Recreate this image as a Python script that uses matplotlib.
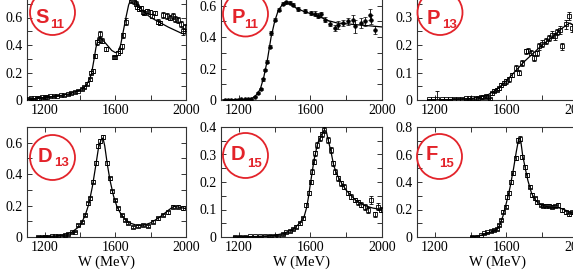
import matplotlib
matplotlib.use("Agg")
import matplotlib.pyplot as plt
from matplotlib.patches import Ellipse
from matplotlib.ticker import MultipleLocator, FuncFormatter

# --- Configuration ---
W_PX, H_PX = 573, 276
RED = '#e3232a'
FRAME = '#333333'

# --- Data ---
# S11
S11_W = [1110, 1125, 1140, 1155, 1170, 1185, 1200, 1215, 1230, 1250,
         1270, 1290, 1310, 1330, 1350, 1370, 1390, 1410, 1425, 1440,
         1455, 1465, 1475, 1485, 1495, 1505, 1515, 1525, 1545,
         1590, 1600, 1615, 1625, 1635, 1645, 1660, 1690,
         1705, 1715, 1725, 1735, 1745, 1755, 1765, 1780, 1795, 1810, 1825, 1840,
         1855, 1870, 1890, 1910, 1925, 1940, 1955, 1970, 1985, 1995]
S11_VAL = [0.010, 0.012, 0.014, 0.016, 0.018, 0.020, 0.022, 0.025, 0.027, 0.029,
           0.032, 0.034, 0.036, 0.042, 0.050, 0.058, 0.068, 0.080, 0.095, 0.120,
           0.150, 0.200, 0.210, 0.320, 0.420, 0.440, 0.480, 0.430, 0.370,
           0.310, 0.310, 0.340, 0.360, 0.390, 0.470, 0.570, 0.730,
           0.720, 0.700, 0.680, 0.660, 0.670, 0.640, 0.630, 0.650, 0.640, 0.610, 0.630, 0.570,
           0.560, 0.620, 0.610, 0.600, 0.610, 0.590, 0.580, 0.550, 0.500, 0.530]
S11_ERR = [0.004, 0.004, 0.004, 0.004, 0.004, 0.004, 0.004, 0.004, 0.004, 0.004,
           0.005, 0.005, 0.005, 0.005, 0.005, 0.006, 0.006, 0.006, 0.007, 0.008,
           0.010, 0.012, 0.012, 0.015, 0.020, 0.020, 0.020, 0.018, 0.015,
           0.012, 0.012, 0.015, 0.015, 0.018, 0.020, 0.025, 0.025,
           0.020, 0.018, 0.018, 0.015, 0.015, 0.015, 0.015, 0.015, 0.015, 0.015, 0.015, 0.018,
           0.018, 0.020, 0.020, 0.020, 0.020, 0.020, 0.022, 0.022, 0.025, 0.025]
S11_FIT_W = [1100, 1150, 1200, 1250, 1300, 1350, 1400, 1430, 1450, 1465,
             1480, 1490, 1500, 1512, 1525, 1540, 1560, 1580, 1600, 1615,
             1630, 1645, 1660, 1675, 1690, 1700, 1715, 1740, 1770, 1800,
             1850, 1900, 1950, 1975, 2000]
S11_FIT = [0.004, 0.010, 0.018, 0.025, 0.035, 0.048, 0.072, 0.10, 0.14, 0.19,
           0.30, 0.38, 0.43, 0.45, 0.44, 0.42, 0.39, 0.36, 0.345, 0.35,
           0.40, 0.50, 0.60, 0.69, 0.74, 0.745, 0.72, 0.67, 0.63, 0.60,
           0.565, 0.53, 0.50, 0.485, 0.48]

# P11
P11_W = [1121, 1140, 1158, 1177, 1195, 1214, 1232, 1251, 1270,
         1288, 1307, 1322, 1335, 1344, 1359, 1372, 1381,
         1400, 1422, 1447, 1465, 1484, 1502, 1530,
         1568, 1605, 1624, 1642, 1660, 1680, 1708,
         1736, 1754, 1782, 1810, 1838, 1847, 1884, 1903, 1931, 1940, 1959]
P11_VAL = [0.003, 0.003, 0.003, 0.003, 0.003, 0.004, 0.004, 0.004, 0.005,
           0.021, 0.043, 0.068, 0.132, 0.192, 0.245, 0.340, 0.426,
           0.511, 0.575, 0.613, 0.622, 0.618, 0.607, 0.580,
           0.564, 0.554, 0.550, 0.537, 0.545, 0.511, 0.486,
           0.458, 0.479, 0.490, 0.500, 0.511, 0.468, 0.490, 0.500, 0.543, 0.511, 0.447]
P11_ERR = [0.002, 0.002, 0.002, 0.002, 0.002, 0.002, 0.002, 0.002, 0.003,
           0.004, 0.005, 0.006, 0.008, 0.008, 0.008, 0.010, 0.010,
           0.010, 0.010, 0.010, 0.010, 0.010, 0.010, 0.012,
           0.012, 0.012, 0.015, 0.015, 0.015, 0.015, 0.018,
           0.020, 0.025, 0.020, 0.025, 0.030, 0.040, 0.030, 0.030, 0.035, 0.030, 0.025]
P11_FIT_W = [1100, 1250, 1280, 1300, 1320, 1340, 1360, 1380, 1400, 1420, 1445, 1465,
             1490, 1520, 1560, 1600, 1650, 1700, 1750, 1800, 1850, 1900, 1950, 2000]
P11_FIT = [0.0, 0.002, 0.015, 0.035, 0.07, 0.15, 0.26, 0.40, 0.50, 0.57, 0.61, 0.62,
           0.61, 0.585, 0.565, 0.55, 0.53, 0.505, 0.49, 0.485, 0.48, 0.475, 0.47, 0.465]

# P13
P13_W = [1167, 1190, 1214, 1237, 1260, 1284, 1307, 1330, 1353, 1372,
         1391, 1410, 1428, 1442, 1456, 1470, 1484, 1496, 1508, 1520,
         1530, 1545, 1558, 1572, 1586, 1600, 1614, 1633, 1652, 1670,
         1689, 1708, 1720, 1736, 1754, 1770, 1782, 1801, 1820, 1838,
         1857, 1870, 1884, 1898, 1912, 1931, 1950, 1968, 1985]
P13_VAL = [0.002, 0.002, 0.002, 0.003, 0.003, 0.003, 0.004, 0.004, 0.005, 0.006,
           0.007, 0.007, 0.008, 0.009, 0.010, 0.012, 0.014, 0.010, 0.005, 0.025,
           0.034, 0.038, 0.043, 0.055, 0.062, 0.068, 0.075, 0.092, 0.116, 0.100,
           0.134, 0.177, 0.180, 0.172, 0.153, 0.170, 0.195, 0.205, 0.215, 0.226,
           0.238, 0.232, 0.248, 0.255, 0.195, 0.275, 0.305, 0.262, 0.285]
P13_ERR = [0.002, 0.002, 0.030, 0.002, 0.002, 0.002, 0.002, 0.002, 0.002, 0.002,
           0.002, 0.002, 0.003, 0.003, 0.003, 0.004, 0.004, 0.004, 0.004, 0.005,
           0.006, 0.006, 0.006, 0.007, 0.007, 0.008, 0.008, 0.008, 0.010, 0.010,
           0.010, 0.010, 0.010, 0.010, 0.010, 0.010, 0.012, 0.012, 0.012, 0.012,
           0.012, 0.012, 0.012, 0.015, 0.012, 0.015, 0.015, 0.015, 0.015]
P13_FIT_W = [1160, 1300, 1400, 1450, 1500, 1550, 1600, 1650, 1700, 1750,
             1800, 1850, 1900, 1930, 1955, 1980, 2000]
P13_FIT = [0.0, 0.002, 0.005, 0.01, 0.02, 0.04, 0.07, 0.105, 0.14, 0.17,
           0.2, 0.225, 0.255, 0.27, 0.28, 0.27, 0.26]

# D13
D13_W = [1164, 1183, 1202, 1221, 1240, 1258, 1277, 1296, 1315, 1334,
         1353, 1372, 1390, 1410, 1428, 1447, 1457, 1475, 1489, 1500,
         1513, 1532, 1551, 1570, 1583, 1598, 1617, 1636, 1655, 1673,
         1702, 1730, 1758, 1786, 1815, 1843, 1871, 1900, 1928, 1956, 1985]
D13_VAL = [0.002, 0.002, 0.003, 0.003, 0.004, 0.005, 0.006, 0.008, 0.010, 0.017,
           0.030, 0.034, 0.077, 0.098, 0.140, 0.215, 0.247, 0.353, 0.470, 0.577,
           0.609, 0.635, 0.470, 0.375, 0.290, 0.236, 0.183, 0.140, 0.109, 0.087,
           0.066, 0.070, 0.077, 0.070, 0.098, 0.119, 0.140, 0.158, 0.194, 0.194, 0.183]
D13_ERR = [0.002, 0.002, 0.002, 0.002, 0.002, 0.002, 0.003, 0.003, 0.003, 0.004,
           0.005, 0.005, 0.006, 0.006, 0.008, 0.010, 0.010, 0.012, 0.012, 0.012,
           0.012, 0.012, 0.012, 0.010, 0.010, 0.008, 0.008, 0.008, 0.007, 0.007,
           0.007, 0.007, 0.007, 0.007, 0.008, 0.008, 0.008, 0.010, 0.010, 0.012, 0.012]
D13_FIT_W = [1160, 1200, 1250, 1300, 1350, 1400, 1430, 1450, 1470, 1490,
             1505, 1520, 1530, 1540, 1555, 1570, 1590, 1610, 1640, 1680,
             1720, 1760, 1800, 1850, 1900, 1930, 1960, 2000]
D13_FIT = [0.001, 0.003, 0.006, 0.012, 0.028, 0.07, 0.14, 0.21, 0.32, 0.46,
           0.57, 0.62, 0.63, 0.58, 0.46, 0.36, 0.26, 0.19, 0.13, 0.09,
           0.075, 0.075, 0.09, 0.125, 0.17, 0.195, 0.19, 0.18]

# D15
D15_W = [1177, 1204, 1232, 1260, 1288, 1316, 1344, 1372, 1400, 1419,
         1447, 1465, 1484, 1502, 1521, 1540, 1558, 1577, 1590, 1601,
         1610, 1620, 1627, 1638, 1652, 1665, 1676, 1698, 1713, 1726,
         1739, 1754, 1772, 1788, 1810, 1828, 1847, 1866, 1885, 1903, 1922, 1940, 1959, 1978, 1995]
D15_VAL = [0.001, 0.001, 0.001, 0.002, 0.002, 0.002, 0.003, 0.003, 0.004, 0.005,
           0.010, 0.017, 0.022, 0.029, 0.038, 0.050, 0.068, 0.116, 0.159, 0.201,
           0.238, 0.274, 0.304, 0.335, 0.359, 0.373, 0.389, 0.353, 0.316, 0.268,
           0.238, 0.213, 0.195, 0.183, 0.159, 0.147, 0.135, 0.126, 0.118, 0.110, 0.098, 0.135, 0.082, 0.110, 0.100]
D15_ERR = [0.001, 0.001, 0.001, 0.001, 0.001, 0.001, 0.001, 0.002, 0.002, 0.002,
           0.002, 0.003, 0.003, 0.004, 0.004, 0.005, 0.005, 0.006, 0.007, 0.008,
           0.008, 0.009, 0.009, 0.010, 0.010, 0.010, 0.010, 0.010, 0.010, 0.009,
           0.009, 0.008, 0.008, 0.008, 0.008, 0.008, 0.008, 0.008, 0.008, 0.010, 0.010, 0.015, 0.010, 0.012, 0.010]
D15_FIT_W = [1170, 1300, 1400, 1450, 1500, 1540, 1565, 1580, 1590, 1600,
             1620, 1640, 1660, 1678, 1690, 1700, 1715, 1730, 1750, 1775,
             1800, 1850, 1900, 1950, 2000]
D15_FIT = [0.0, 0.002, 0.006, 0.013, 0.027, 0.05, 0.075, 0.11, 0.15, 0.195,
           0.28, 0.34, 0.37, 0.39, 0.38, 0.35, 0.31, 0.26, 0.225, 0.195,
           0.17, 0.135, 0.115, 0.105, 0.1]

# F15
F15_W = [1409, 1437, 1456, 1475, 1493, 1512, 1530, 1545, 1558, 1571,
         1582, 1595, 1604, 1614, 1627, 1638, 1652, 1665, 1676, 1689,
         1704, 1717, 1732, 1745, 1758, 1773, 1792, 1806, 1820, 1838,
         1857, 1872, 1888, 1912, 1931, 1950, 1968, 1990]
F15_VAL = [0.002, 0.003, 0.015, 0.027, 0.034, 0.044, 0.051, 0.060, 0.087, 0.124,
           0.184, 0.220, 0.293, 0.318, 0.402, 0.463, 0.572, 0.705, 0.713, 0.584,
           0.511, 0.451, 0.366, 0.305, 0.281, 0.252, 0.233, 0.228, 0.228, 0.228,
           0.220, 0.225, 0.233, 0.196, 0.180, 0.165, 0.180, 0.170]
F15_ERR = [0.002, 0.002, 0.003, 0.004, 0.004, 0.005, 0.005, 0.006, 0.008, 0.010,
           0.012, 0.012, 0.015, 0.015, 0.015, 0.015, 0.015, 0.018, 0.018, 0.015,
           0.015, 0.012, 0.012, 0.012, 0.010, 0.010, 0.010, 0.010, 0.010, 0.010,
           0.010, 0.010, 0.012, 0.012, 0.012, 0.012, 0.012, 0.012]
F15_FIT_W = [1400, 1450, 1500, 1540, 1560, 1580, 1600, 1620, 1640, 1655,
             1668, 1680, 1690, 1705, 1720, 1740, 1760, 1790, 1830, 1870,
             1900, 1940, 1970, 2000]
F15_FIT = [0.0, 0.01, 0.03, 0.05, 0.08, 0.15, 0.25, 0.36, 0.50, 0.62,
           0.71, 0.70, 0.60, 0.50, 0.41, 0.32, 0.27, 0.235, 0.22, 0.215,
           0.21, 0.19, 0.175, 0.17]

# --- Layout (pixels from top-left) ---
PANELS = [
    dict(letter='S', sub='11', data=(S11_W, S11_VAL, S11_ERR, S11_FIT_W, S11_FIT),
         rect=(27, -10, 159, 110), ymax=0.8, ymaj=0.2, ymin=0.1, filled=False,
         circle=(52.5, 12.5), lpos=(42, 23), spos=(57.5, 28.5)),
    dict(letter='P', sub='11', data=(P11_W, P11_VAL, P11_ERR, P11_FIT_W, P11_FIT),
         rect=(221, -10, 161, 110), ymax=0.7, ymaj=0.2, ymin=0.1, filled=True,
         circle=(245.5, 14), lpos=(238, 23), spos=(251.5, 28.5)),
    dict(letter='P', sub='13', data=(P13_W, P13_VAL, P13_ERR, P13_FIT_W, P13_FIT),
         rect=(417, -10, 161, 110), ymax=0.4, ymaj=0.1, ymin=0.05, filled=False,
         circle=(440, 12.5), lpos=(433, 23.5), spos=(450, 28.5)),
    dict(letter='D', sub='13', data=(D13_W, D13_VAL, D13_ERR, D13_FIT_W, D13_FIT),
         rect=(27, 127, 159, 110), ymax=0.7, ymaj=0.2, ymin=0.1, filled=False,
         circle=(52.5, 157.5), lpos=(45, 161.5), spos=(61.5, 166.5)),
    dict(letter='D', sub='15', data=(D15_W, D15_VAL, D15_ERR, D15_FIT_W, D15_FIT),
         rect=(221, 127, 161, 110), ymax=0.4, ymaj=0.1, ymin=0.05, filled=False,
         circle=(245.5, 155.5), lpos=(238, 160.5), spos=(254.5, 167)),
    dict(letter='F', sub='15', data=(F15_W, F15_VAL, F15_ERR, F15_FIT_W, F15_FIT),
         rect=(417, 127, 161, 110), ymax=0.8, ymaj=0.2, ymin=0.1, filled=False,
         circle=(439.5, 156.5), lpos=(432, 160.5), spos=(446.5, 167)),
]


def fx(x):
    return x / W_PX


def fy(y):
    return 1 - y / H_PX


def make_fmt(hide_top, ymax):
    # top row: the label at the very top of the axis lies off the picture
    def tick_fmt(v, pos):
        if hide_top and v > ymax - 1e-9:
            return ''
        if abs(v) < 1e-9:
            return '0'
        return f'{v:g}'
    return FuncFormatter(tick_fmt)


fig = plt.figure(figsize=(W_PX / 100, H_PX / 100), dpi=100)
plt.rcParams['font.family'] = ['Liberation Serif', 'DejaVu Serif']

for i, p in enumerate(PANELS):
    left, top, w, h = p['rect']
    ax = fig.add_axes([fx(left), fy(top + h), w / W_PX, h / H_PX])
    wd, val, err, fw, fit = p['data']

    if p['filled']:
        ax.errorbar(wd, val, yerr=err, fmt='o', ms=2.6, mfc='k', mec='k', mew=0.5,
                    ecolor='k', elinewidth=0.6, capsize=1.2, capthick=0.6, zorder=3)
    else:
        ax.errorbar(wd, val, yerr=err, fmt='s', ms=3.0, mfc='none', mec='k', mew=0.6,
                    ecolor='k', elinewidth=0.6, capsize=1.2, capthick=0.6, zorder=3)
    ax.plot(fw, fit, color='k', lw=0.9, zorder=2)

    ax.set_xlim(1100, 2000)
    ax.set_ylim(0, p['ymax'])
    ax.xaxis.set_major_locator(MultipleLocator(400))
    ax.xaxis.set_minor_locator(MultipleLocator(200))
    ax.yaxis.set_major_locator(MultipleLocator(p['ymaj']))
    ax.yaxis.set_minor_locator(MultipleLocator(p['ymin']))
    ax.yaxis.set_major_formatter(make_fmt(i < 3, p['ymax']))
    ax.tick_params(which='both', direction='in', top=True, right=True,
                   length=3.5, width=0.7, color=FRAME, labelsize=10, pad=3)
    for s in ax.spines.values():
        s.set_linewidth(0.8)
        s.set_color(FRAME)
    if i >= 3:
        ax.set_xlabel('W (MeV)', fontsize=10.5, labelpad=1)

    # red circle label
    cx, cy = p['circle']
    fig.add_artist(Ellipse((fx(cx), fy(cy)), 45 / W_PX, 45 / H_PX,
                           transform=fig.transFigure, fill=False,
                           edgecolor=RED, lw=1.3, zorder=5))
    fig.text(fx(p['lpos'][0]), fy(p['lpos'][1]), p['letter'], color=RED,
             fontsize=14.5, fontweight='bold', family='Liberation Sans',
             ha='center', va='baseline')
    fig.text(fx(p['spos'][0]), fy(p['spos'][1]), p['sub'], color=RED,
             fontsize=9.5, fontweight='bold', family='Liberation Sans',
             ha='center', va='baseline')

fig.savefig('out.png', dpi=100)
